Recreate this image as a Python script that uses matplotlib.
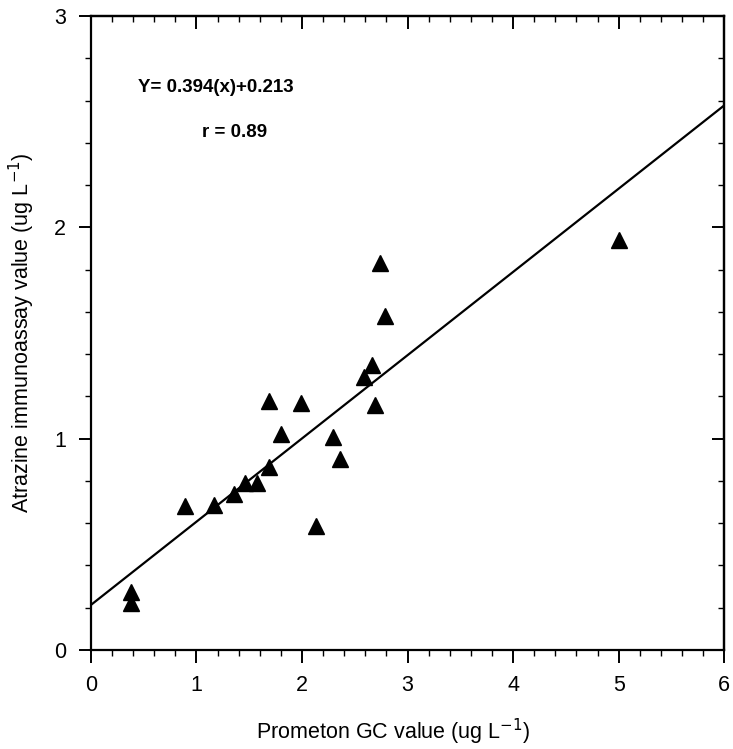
import matplotlib
matplotlib.use("Agg")
import matplotlib.pyplot as plt
from matplotlib.ticker import MultipleLocator
import numpy as np

plt.rcParams['font.family'] = ['Liberation Sans', 'DejaVu Sans']

prometon_gc = [2.74, 2.79, 5.00, 2.66, 2.59, 1.69, 1.99, 2.69, 1.80, 2.29,
               2.36, 1.69, 1.46, 1.57, 1.36, 1.17, 0.89, 2.13, 0.38, 0.38]
atrazine_ia = [1.83, 1.58, 1.94, 1.35, 1.29, 1.18, 1.17, 1.16, 1.02, 1.01,
               0.905, 0.866, 0.79, 0.79, 0.74, 0.687, 0.68, 0.587, 0.276, 0.224]
slope = 0.394
intercept = 0.213
x_ticks = [0, 1, 2, 3, 4, 5, 6]
y_ticks = [0, 1, 2, 3]

fig = plt.figure(figsize=(7.33, 7.49), dpi=100)
ax = fig.add_axes([0.124, 0.1322, 0.864, 0.8464])

ax.plot(prometon_gc, atrazine_ia, linestyle='none', marker='^', markersize=12,
        color='black', zorder=3)
xl = np.array([0, 6])
ax.plot(xl, slope * xl + intercept, color='black', linewidth=1.6)

ax.set_xlim(0, 6)
ax.set_ylim(0, 3)
ax.set_xticks(x_ticks)
ax.set_yticks(y_ticks)
ax.xaxis.set_minor_locator(MultipleLocator(0.2))
ax.yaxis.set_minor_locator(MultipleLocator(0.2))
ax.tick_params(which='major', direction='out', length=9, width=1.4, labelsize=15.5, pad=9)
ax.tick_params(which='minor', direction='out', length=4, width=1.0)

for s in ax.spines.values():
    s.set_linewidth(1.6)

secx = ax.secondary_xaxis('top')
secx.set_xticks(x_ticks)
secx.xaxis.set_minor_locator(MultipleLocator(0.2))
secx.tick_params(which='major', direction='in', length=9, width=1.4, labeltop=False)
secx.tick_params(which='minor', direction='in', length=4, width=1.0)
secx.spines['top'].set_linewidth(1.6)

secy = ax.secondary_yaxis('right')
secy.set_yticks(y_ticks)
secy.yaxis.set_minor_locator(MultipleLocator(0.2))
secy.tick_params(which='major', direction='in', length=9, width=1.4, labelright=False)
secy.tick_params(which='minor', direction='in', length=4, width=1.0)
secy.spines['right'].set_linewidth(1.6)

ax.set_xlabel('Prometon GC value (ug L$^{-1}$)', fontsize=15.5, labelpad=15, x=0.478)
ax.set_ylabel('Atrazine immunoassay value (ug L$^{-1}$)', fontsize=15.5, labelpad=12)

ax.text(1.18, 2.66, 'Y= 0.394(x)+0.213', fontsize=13.5, fontweight='bold',
        va='center', ha='center')
ax.text(1.36, 2.45, 'r = 0.89', fontsize=13.5, fontweight='bold',
        va='center', ha='center')

fig.savefig('out.png', dpi=100)
